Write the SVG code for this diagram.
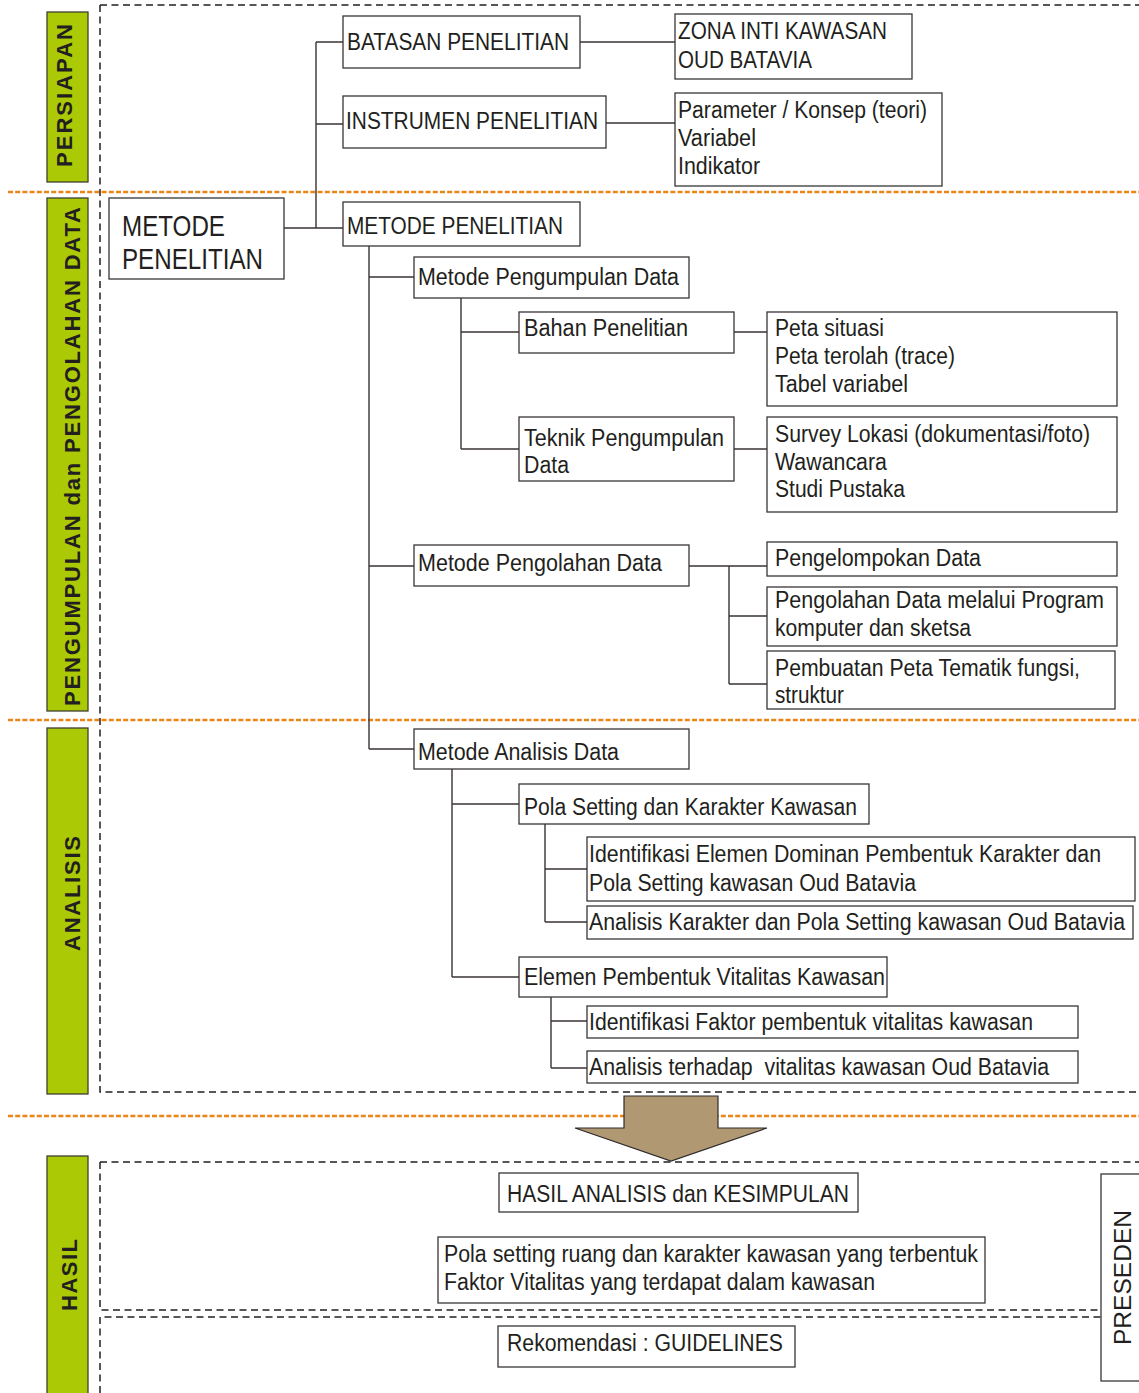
<svg xmlns="http://www.w3.org/2000/svg" width="1139" height="1393" viewBox="0 0 1139 1393">
  <style>
    .box { fill: #ffffff; stroke: #3a3536; stroke-width: 1.3; }
    .t { font-family: "Liberation Sans Narrow", "Liberation Sans", Arial, sans-serif; font-size: 23px; fill: #231f20; }
    .big { font-size: 30px; }
    .bar { fill: #abc905; stroke: #3f3f30; stroke-width: 1.3; }
    .bt { font-family: "Liberation Sans", Arial, sans-serif; font-weight: bold; font-size: 22px; fill: #231f20; text-anchor: middle; }
    .dash { fill: none; stroke: #231f20; stroke-width: 1.5; stroke-dasharray: 7 4.5; }
    .odash { fill: none; stroke: #ec8519; stroke-width: 2.6; stroke-dasharray: 5 2.2; }
    .conn path { fill: none; stroke: #3a3334; stroke-width: 1.4; }
  </style>

  <!-- phase separators -->
  <g id="separators">
    <path class="odash" d="M8,192 H1139 M8,720 H1139 M8,1116 H1139"/>
    <path class="dash" d="M100,5 H1139 M100,5 V1092 H1139"/>
    <path class="dash" d="M100,1393 V1317 H1139 M100,1162 H1139 M100,1162 V1310 H1139"/>
  </g>

  <!-- phase bars -->
  <g id="phase-persiapan">
    <rect class="bar" x="47" y="12" width="41" height="170"/>
    <text class="bt" transform="translate(72,95.5) rotate(-90)" textLength="143" lengthAdjust="spacing">PERSIAPAN</text>
  </g>
  <g id="phase-pengumpulan">
    <rect class="bar" x="47" y="198" width="41" height="513"/>
    <text class="bt" transform="translate(80,456.5) rotate(-90)" textLength="499" lengthAdjust="spacing">PENGUMPULAN dan PENGOLAHAN DATA</text>
  </g>
  <g id="phase-analisis">
    <rect class="bar" x="47" y="728" width="41" height="366"/>
    <text class="bt" transform="translate(80,893.5) rotate(-90)" textLength="115" lengthAdjust="spacing">ANALISIS</text>
  </g>
  <g id="phase-hasil">
    <rect class="bar" x="47" y="1156" width="41" height="240"/>
    <text class="bt" transform="translate(77,1275) rotate(-90)" textLength="72" lengthAdjust="spacing">HASIL</text>
  </g>

  <!-- connectors -->
  <g id="connectors" class="conn">
    <path d="M284,228 H343 M316,42 V228 M316,42 H343 M316,124 H343"/>
    <path d="M580,42 H675 M606,123 H675"/>
    <path d="M369,246 V749 M369,277 H414 M369,566 H414 M369,749 H414"/>
    <path d="M461,298 V449 M461,332 H519 M461,449 H519"/>
    <path d="M734,332 H767 M734,449 H767"/>
    <path d="M689,566 H767 M729,566 V684 M729,616 H767 M729,684 H767"/>
    <path d="M452,769 V977 M452,804 H519 M452,977 H519"/>
    <path d="M545,824 V922 M545,869 H587 M545,922 H587"/>
    <path d="M551,997 V1068 M551,1021 H587 M551,1068 H587"/>
  </g>

  <!-- nodes -->
  <g id="batasan">
    <rect class="box" x="343" y="16" width="237" height="52"/>
    <text class="t" x="347" y="50" textLength="222" lengthAdjust="spacingAndGlyphs">BATASAN PENELITIAN</text>
  </g>
  <g id="zona-inti">
    <rect class="box" x="675" y="14" width="237" height="65"/>
    <text class="t" x="678" y="39" textLength="209" lengthAdjust="spacingAndGlyphs">ZONA INTI KAWASAN</text>
    <text class="t" x="678" y="68" textLength="134" lengthAdjust="spacingAndGlyphs">OUD BATAVIA</text>
  </g>
  <g id="instrumen">
    <rect class="box" x="343" y="96" width="263" height="52"/>
    <text class="t" x="346" y="129" textLength="252" lengthAdjust="spacingAndGlyphs">INSTRUMEN PENELITIAN</text>
  </g>
  <g id="parameter">
    <rect class="box" x="675" y="93" width="267" height="93"/>
    <text class="t" x="678" y="118" textLength="249" lengthAdjust="spacingAndGlyphs">Parameter / Konsep (teori)</text>
    <text class="t" x="678" y="146" textLength="78" lengthAdjust="spacingAndGlyphs">Variabel</text>
    <text class="t" x="678" y="174" textLength="82" lengthAdjust="spacingAndGlyphs">Indikator</text>
  </g>
  <g id="metode-penelitian-main">
    <rect class="box" x="109" y="198" width="175" height="81"/>
    <text class="t big" x="122" y="236" textLength="103" lengthAdjust="spacingAndGlyphs">METODE</text>
    <text class="t big" x="122" y="269" textLength="141" lengthAdjust="spacingAndGlyphs">PENELITIAN</text>
  </g>
  <g id="metode-penelitian">
    <rect class="box" x="343" y="202" width="237" height="44"/>
    <text class="t" x="347" y="234" textLength="216" lengthAdjust="spacingAndGlyphs">METODE PENELITIAN</text>
  </g>
  <g id="metode-pengumpulan">
    <rect class="box" x="414" y="257" width="275" height="41"/>
    <text class="t" x="418" y="285" textLength="261" lengthAdjust="spacingAndGlyphs">Metode Pengumpulan Data</text>
  </g>
  <g id="bahan">
    <rect class="box" x="519" y="312" width="215" height="41"/>
    <text class="t" x="524" y="336" textLength="164" lengthAdjust="spacingAndGlyphs">Bahan Penelitian</text>
  </g>
  <g id="peta">
    <rect class="box" x="767" y="312" width="350" height="94"/>
    <text class="t" x="775" y="336" textLength="109" lengthAdjust="spacingAndGlyphs">Peta situasi</text>
    <text class="t" x="775" y="364" textLength="180" lengthAdjust="spacingAndGlyphs">Peta terolah (trace)</text>
    <text class="t" x="775" y="392" textLength="133" lengthAdjust="spacingAndGlyphs">Tabel variabel</text>
  </g>
  <g id="teknik">
    <rect class="box" x="519" y="417" width="215" height="64"/>
    <text class="t" x="524" y="446" textLength="200" lengthAdjust="spacingAndGlyphs">Teknik Pengumpulan</text>
    <text class="t" x="524" y="473" textLength="45" lengthAdjust="spacingAndGlyphs">Data</text>
  </g>
  <g id="survey">
    <rect class="box" x="767" y="417" width="350" height="95"/>
    <text class="t" x="775" y="442" textLength="315" lengthAdjust="spacingAndGlyphs">Survey Lokasi (dokumentasi/foto)</text>
    <text class="t" x="775" y="470" textLength="112" lengthAdjust="spacingAndGlyphs">Wawancara</text>
    <text class="t" x="775" y="497" textLength="130" lengthAdjust="spacingAndGlyphs">Studi Pustaka</text>
  </g>
  <g id="metode-pengolahan">
    <rect class="box" x="414" y="545" width="275" height="41"/>
    <text class="t" x="418" y="571" textLength="244" lengthAdjust="spacingAndGlyphs">Metode Pengolahan Data</text>
  </g>
  <g id="pengelompokan">
    <rect class="box" x="767" y="542" width="350" height="34"/>
    <text class="t" x="775" y="566" textLength="206" lengthAdjust="spacingAndGlyphs">Pengelompokan Data</text>
  </g>
  <g id="pengolahan-program">
    <rect class="box" x="767" y="587" width="350" height="59"/>
    <text class="t" x="775" y="608" textLength="329" lengthAdjust="spacingAndGlyphs">Pengolahan Data melalui Program</text>
    <text class="t" x="775" y="636" textLength="196" lengthAdjust="spacingAndGlyphs">komputer dan sketsa</text>
  </g>
  <g id="peta-tematik">
    <rect class="box" x="767" y="651" width="348" height="58"/>
    <text class="t" x="775" y="676" textLength="305" lengthAdjust="spacingAndGlyphs">Pembuatan Peta Tematik fungsi,</text>
    <text class="t" x="775" y="703" textLength="69" lengthAdjust="spacingAndGlyphs">struktur</text>
  </g>
  <g id="metode-analisis">
    <rect class="box" x="414" y="729" width="275" height="40"/>
    <text class="t" x="418" y="760" textLength="201" lengthAdjust="spacingAndGlyphs">Metode Analisis Data</text>
  </g>
  <g id="pola-setting">
    <rect class="box" x="519" y="784" width="350" height="40"/>
    <text class="t" x="524" y="815" textLength="333" lengthAdjust="spacingAndGlyphs">Pola Setting dan Karakter Kawasan</text>
  </g>
  <g id="identifikasi-elemen">
    <rect class="box" x="587" y="837" width="548" height="64"/>
    <text class="t" x="589" y="862" textLength="512" lengthAdjust="spacingAndGlyphs">Identifikasi Elemen Dominan Pembentuk Karakter dan</text>
    <text class="t" x="589" y="891" textLength="327" lengthAdjust="spacingAndGlyphs">Pola Setting kawasan Oud Batavia</text>
  </g>
  <g id="analisis-karakter">
    <rect class="box" x="587" y="906" width="546" height="33"/>
    <text class="t" x="589" y="930" font-size="22" textLength="536" lengthAdjust="spacingAndGlyphs">Analisis Karakter dan Pola Setting kawasan Oud Batavia</text>
  </g>
  <g id="elemen-vitalitas">
    <rect class="box" x="519" y="957" width="368" height="40"/>
    <text class="t" x="524" y="985" textLength="361" lengthAdjust="spacingAndGlyphs">Elemen Pembentuk Vitalitas Kawasan</text>
  </g>
  <g id="identifikasi-faktor">
    <rect class="box" x="587" y="1006" width="491" height="32"/>
    <text class="t" x="589" y="1030" textLength="444" lengthAdjust="spacingAndGlyphs">Identifikasi Faktor pembentuk vitalitas kawasan</text>
  </g>
  <g id="analisis-vitalitas">
    <rect class="box" x="587" y="1051" width="491" height="32"/>
    <text class="t" x="589" y="1075" textLength="460" lengthAdjust="spacingAndGlyphs">Analisis terhadap&#160; vitalitas kawasan Oud Batavia</text>
  </g>

  <!-- transition arrow into results -->
  <g id="arrow-hasil">
    <polygon points="624,1096 718,1096 718,1128 767,1128 671,1161 575,1128 624,1128" fill="#b09872" stroke="#2e2a2a" stroke-width="1.2"/>
  </g>

  <g id="hasil-analisis">
    <rect class="box" x="499" y="1173" width="359" height="39"/>
    <text class="t" x="507" y="1202" textLength="342" lengthAdjust="spacingAndGlyphs">HASIL ANALISIS dan KESIMPULAN</text>
  </g>
  <g id="pola-ruang">
    <rect class="box" x="438" y="1237" width="547" height="66"/>
    <text class="t" x="444" y="1262" textLength="534" lengthAdjust="spacingAndGlyphs">Pola setting ruang dan karakter kawasan yang terbentuk</text>
    <text class="t" x="444" y="1290" textLength="431" lengthAdjust="spacingAndGlyphs">Faktor Vitalitas yang terdapat dalam kawasan</text>
  </g>
  <g id="rekomendasi">
    <rect class="box" x="498" y="1326" width="297" height="41"/>
    <text class="t" x="507" y="1351" textLength="276" lengthAdjust="spacingAndGlyphs">Rekomendasi : GUIDELINES</text>
  </g>
  <g id="preseden">
    <rect class="box" x="1101" y="1174" width="40" height="207"/>
    <text class="t" font-size="26" text-anchor="middle" transform="translate(1131,1277.5) rotate(-90)" textLength="135" lengthAdjust="spacingAndGlyphs">PRESEDEN</text>
  </g>
</svg>
